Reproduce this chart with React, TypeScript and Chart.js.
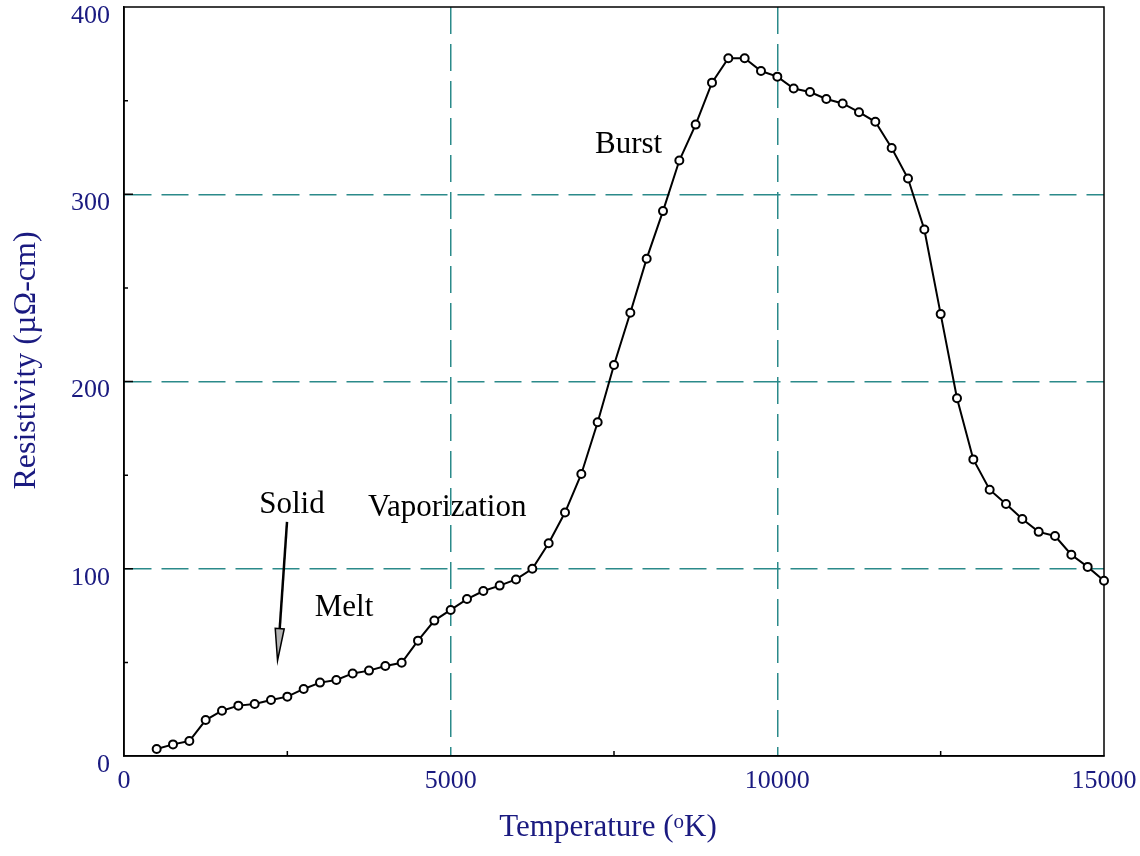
import { useEffect, useRef } from 'react';
import { Chart, registerables } from 'chart.js';

Chart.register(...registerables);

// Temperature samples (K) and measured resistivity (µΩ-cm)
const temperatures = [
  500, 750, 1000, 1250, 1500, 1750, 2000, 2250, 2500, 2750,
  3000, 3250, 3500, 3750, 4000, 4250, 4500, 4750, 5000, 5250,
  5500, 5750, 6000, 6250, 6500, 6750, 7000, 7250, 7500, 7750,
  8000, 8250, 8500, 8750, 9000, 9250, 9500, 9750, 10000, 10250,
  10500, 10750, 11000, 11250, 11500, 11750, 12000, 12250, 12500, 12750,
  13000, 13250, 13500, 13750, 14000, 14250, 14500, 14750, 15000,
];
const resistivity = [
  3.7, 6.2, 8.0, 19.2, 24.2, 26.9, 27.8, 29.9, 31.7, 35.8,
  39.2, 40.6, 44.1, 45.6, 48.1, 49.8, 61.6, 72.3, 78.0, 83.8,
  88.1, 91.0, 94.3, 100.0, 113.6, 130.0, 150.6, 178.2, 208.8, 236.7,
  265.6, 291.0, 318.0, 337.2, 359.6, 372.6, 372.6, 365.8, 362.8, 356.5,
  354.6, 350.9, 348.5, 343.8, 338.7, 324.7, 308.4, 281.2, 236.0, 191.1,
  158.4, 142.2, 134.6, 126.6, 119.7, 117.5, 107.5, 101.0, 93.6,
];

const xTicks = [0, 5000, 10000, 15000];
const yTicks = [0, 100, 200, 300, 400];
const xMinorTicks = [2500, 7500, 12500];
const yMinorTicks = [50, 150, 250, 350];

const xTitleParts = ['Temperature (', 'o', 'K)'];
const yTitle = 'Resistivity (µΩ-cm)';

// Phase labels, anchored in data units (left edge, baseline)
const phaseNotes = [
  { text: 'Solid', x: 2070, y: 130 },
  { text: 'Vaporization', x: 3735, y: 128 },
  { text: 'Melt', x: 2920, y: 74.5 },
  { text: 'Burst', x: 7210, y: 322 },
];
const solidArrow = { from: { x: 2495, y: 125 }, to: { x: 2350, y: 51 } };

const SERIF = '"Liberation Serif", "Times New Roman", serif';
const NAVY = '#1a1a80';
const TEAL = '#2b8a8a';

const decorations = {
  id: 'decorations',
  beforeDatasetsDraw(chart: any) {
    const { ctx, chartArea: a, scales } = chart;
    const x = scales.x;
    const y = scales.y;
    ctx.save();
    ctx.strokeStyle = '#000';
    ctx.lineWidth = 1.5;
    ctx.strokeRect(a.left, a.top, a.right - a.left, a.bottom - a.top);
    ctx.beginPath();
    yTicks.slice(1, -1).forEach((v) => {
      const py = y.getPixelForValue(v);
      ctx.moveTo(a.left, py);
      ctx.lineTo(a.left + 9, py);
    });
    yMinorTicks.forEach((v) => {
      const py = y.getPixelForValue(v);
      ctx.moveTo(a.left, py);
      ctx.lineTo(a.left + 4, py);
    });
    xMinorTicks.forEach((v) => {
      const px = x.getPixelForValue(v);
      ctx.moveTo(px, a.bottom);
      ctx.lineTo(px, a.bottom - 5);
    });
    ctx.stroke();
    ctx.restore();
  },
  afterDatasetsDraw(chart: any) {
    const { ctx, scales } = chart;
    const x = scales.x;
    const y = scales.y;
    ctx.save();
    ctx.fillStyle = '#000';
    ctx.font = `31px ${SERIF}`;
    ctx.textAlign = 'left';
    ctx.textBaseline = 'alphabetic';
    phaseNotes.forEach((n) => {
      ctx.fillText(n.text, x.getPixelForValue(n.x), y.getPixelForValue(n.y));
    });

    // arrow from "Solid" down to the curve
    const x0 = x.getPixelForValue(solidArrow.from.x);
    const y0 = y.getPixelForValue(solidArrow.from.y);
    const x1 = x.getPixelForValue(solidArrow.to.x);
    const y1 = y.getPixelForValue(solidArrow.to.y);
    const len = Math.hypot(x1 - x0, y1 - y0);
    const ux = (x1 - x0) / len;
    const uy = (y1 - y0) / len;
    const headLen = 32;
    const half = 4.5;
    const bx = x1 - ux * headLen;
    const by = y1 - uy * headLen;
    ctx.strokeStyle = '#000';
    ctx.lineWidth = 2.5;
    ctx.beginPath();
    ctx.moveTo(x0, y0);
    ctx.lineTo(bx, by);
    ctx.stroke();
    ctx.beginPath();
    ctx.moveTo(x1, y1);
    ctx.lineTo(bx - uy * half, by + ux * half);
    ctx.lineTo(bx + uy * half, by - ux * half);
    ctx.closePath();
    ctx.fillStyle = '#b4b4b4';
    ctx.fill();
    ctx.lineWidth = 1.5;
    ctx.stroke();
    ctx.restore();
  },
  afterDraw(chart: any) {
    const { ctx, chartArea: a } = chart;
    ctx.save();
    ctx.fillStyle = NAVY;

    // vertical axis title
    ctx.font = `32px ${SERIF}`;
    ctx.textAlign = 'center';
    ctx.textBaseline = 'middle';
    ctx.translate(27, (a.top + a.bottom) / 2 - 21);
    ctx.rotate(-Math.PI / 2);
    ctx.fillText(yTitle, 0, 0);
    ctx.setTransform(1, 0, 0, 1, 0, 0);

    // horizontal axis title with superscript
    const mainFont = `31px ${SERIF}`;
    const supFont = `21px ${SERIF}`;
    ctx.textAlign = 'left';
    ctx.textBaseline = 'alphabetic';
    ctx.font = mainFont;
    const w0 = ctx.measureText(xTitleParts[0]).width;
    const w2 = ctx.measureText(xTitleParts[2]).width;
    ctx.font = supFont;
    const w1 = ctx.measureText(xTitleParts[1]).width;
    const total = w0 + w1 + w2;
    const base = a.bottom + 80;
    let cx = (a.left + a.right) / 2 - 6 - total / 2;
    ctx.font = mainFont;
    ctx.fillText(xTitleParts[0], cx, base);
    cx += w0;
    ctx.font = supFont;
    ctx.fillText(xTitleParts[1], cx, base - 8);
    cx += w1;
    ctx.font = mainFont;
    ctx.fillText(xTitleParts[2], cx, base);
    ctx.restore();
  },
};

export default function App() {
  const canvasRef = useRef<HTMLCanvasElement | null>(null);

  useEffect(() => {
    const canvas = canvasRef.current;
    if (!canvas) return;
    const points = temperatures.map((t, i) => ({ x: t, y: resistivity[i] }));
    const gridColor = (max: number) => (c: any) =>
      c.tick && (c.tick.value === 0 || c.tick.value === max) ? 'rgba(0,0,0,0)' : TEAL;

    const chart = new Chart(canvas, {
      type: 'line',
      data: {
        datasets: [
          {
            data: points,
            borderColor: '#000',
            borderWidth: 2,
            pointStyle: 'circle',
            pointRadius: 4,
            pointBorderWidth: 2,
            pointBackgroundColor: '#fff',
            pointBorderColor: '#000',
            tension: 0,
            clip: false as any,
          },
        ],
      },
      options: {
        responsive: false,
        animation: false,
        events: [],
        layout: { padding: { left: 0, top: 7, right: 36, bottom: 0 } },
        plugins: {
          legend: { display: false },
          tooltip: { enabled: false },
        },
        scales: {
          x: {
            type: 'linear',
            min: 0,
            max: 15000,
            afterBuildTicks: (s: any) => {
              s.ticks = xTicks.map((v) => ({ value: v }));
            },
            afterFit: (s: any) => {
              s.height = 100;
              s.paddingLeft = 0;
              s.paddingRight = 0;
            },
            ticks: {
              color: NAVY,
              font: { family: SERIF, size: 26 },
              padding: 10,
              maxRotation: 0,
              callback: (v: any) => String(v),
            },
            grid: { color: gridColor(15000), lineWidth: 1.5, drawTicks: false },
            border: { display: true, color: '#000', width: 1.5, dash: [27, 10] },
          },
          y: {
            type: 'linear',
            min: 0,
            max: 400,
            afterBuildTicks: (s: any) => {
              s.ticks = yTicks.map((v) => ({ value: v }));
            },
            afterFit: (s: any) => {
              s.width = 124;
              s.paddingTop = 0;
              s.paddingBottom = 0;
            },
            ticks: {
              color: NAVY,
              font: { family: SERIF, size: 26 },
              padding: 14,
              labelOffset: 9,
              callback: (v: any) => String(v),
            },
            grid: { color: gridColor(400), lineWidth: 1.5, drawTicks: false },
            border: { display: true, color: '#000', width: 1.5, dash: [27, 10] },
          },
        },
      },
      plugins: [decorations],
    });
    return () => chart.destroy();
  }, []);

  return (
    <div style={{ position: 'fixed', left: 0, top: 0, width: 1140, height: 856, background: '#fff' }}>
      <canvas ref={canvasRef} width={1140} height={856} style={{ display: 'block' }} />
    </div>
  );
}
